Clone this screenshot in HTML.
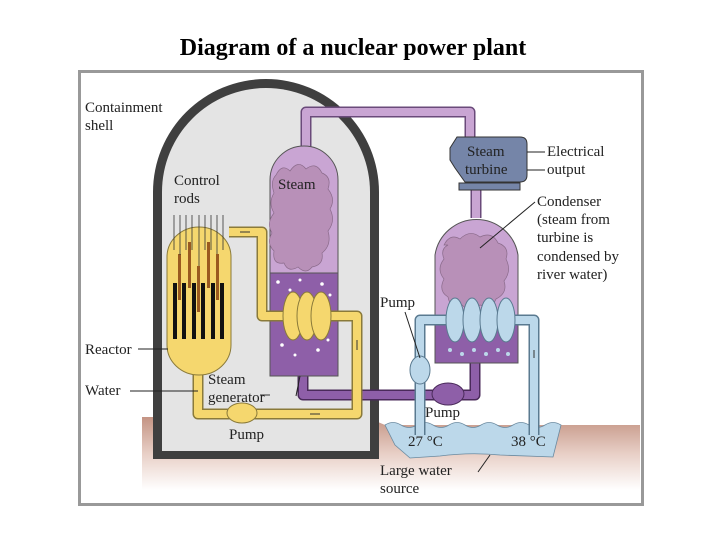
<!DOCTYPE html>
<html><head><meta charset="utf-8"><style>
html,body{margin:0;padding:0;background:#fff;width:720px;height:540px;overflow:hidden}
svg text{font-family:"Liberation Serif",serif;font-size:15px;fill:#222}
</style></head><body>
<svg width="720" height="540" viewBox="0 0 720 540" xmlns="http://www.w3.org/2000/svg">
<defs>
<linearGradient id="gr" x1="0" y1="0" x2="0" y2="1">
<stop offset="0" stop-color="#c49484"/><stop offset="0.5" stop-color="#e8cfc6"/><stop offset="1" stop-color="#fff"/>
</linearGradient>
</defs>
<text x="353" y="55" text-anchor="middle" style="font-size:24px;font-weight:bold;fill:#000">Diagram of a nuclear power plant</text>
<rect x="79.5" y="71.5" width="563" height="433" fill="#fff" stroke="#999" stroke-width="3"/>
<path d="M142 417 L153 417 L153 459 L378 459 L378 422 L385 425 L640 425 L640 490 L142 490 Z" fill="url(#gr)"/>
<path d="M385 425 q8 -5 16 0 q8 5 16 0 q8 -5 16 0 q8 5 16 0 q8 -5 16 0 q8 5 16 0 q8 -5 16 0 q8 5 16 0 q8 -5 16 0 q8 5 16 0 q8 -5 16 0 L553 457 L500 455 Q470 452 440 456 L410 458 L395 445 Z" fill="#bcd8ea" stroke="#6a8aa0" stroke-width="0.8"/>
<path d="M153 459 L153 192 A113 113 0 0 1 379 192 L379 459 Z" fill="#3f3f3f"/>
<path d="M162 451 L162 192 A104 104 0 0 1 370 192 L370 451 Z" fill="#e4e4e4"/>
<g fill="none" stroke-linejoin="round">
<path d="M306 150 L306 112 L470 112 L470 140" stroke="#6a4a7a" stroke-width="11"/>
<path d="M306 150 L306 112 L470 112 L470 140" stroke="#c9a5d3" stroke-width="8"/>
<path d="M476 180 L476 218" stroke="#6a4a7a" stroke-width="11"/>
<path d="M476 180 L476 218" stroke="#c9a5d3" stroke-width="8"/>
<path d="M475 360 L475 395 L303 395 L303 376" stroke="#4a2a5a" stroke-width="11"/>
<path d="M475 360 L475 395 L303 395 L303 376" stroke="#8e5fa8" stroke-width="8"/>
</g>
<path d="M270 376 L270 180 A34 34 0 0 1 338 180 L338 376 Z" fill="#c9a5d3" stroke="#555" stroke-width="1"/>
<rect x="270" y="273" width="68" height="103" fill="#8e5fa8" stroke="#555" stroke-width="1"/>
<path d="M276 175 q6 -12 14 -4 q8 -12 16 -2 q10 -8 16 4 q10 4 6 16 q8 10 2 20 q6 12 -2 22 q4 14 -6 22 q2 12 -10 14 q-6 8 -14 0 q-10 6 -14 -4 q-12 2 -10 -12 q-8 -8 -2 -18 q-6 -10 2 -20 q-6 -10 0 -20 q-4 -12 2 -18Z" fill="#b890b8" stroke="#8a6a8a" stroke-width="0.7"/>
<g fill="#fff"><circle cx="278" cy="282" r="1.8"/><circle cx="290" cy="290" r="1.5"/><circle cx="300" cy="280" r="1.5"/><circle cx="322" cy="284" r="1.8"/><circle cx="330" cy="295" r="1.5"/><circle cx="282" cy="345" r="1.8"/><circle cx="295" cy="355" r="1.5"/><circle cx="318" cy="350" r="1.8"/><circle cx="328" cy="340" r="1.5"/></g>
<path d="M435 363 L435 255 A42 42 0 0 1 518 255 L518 363 Z" fill="#c9a5d3" stroke="#555" stroke-width="1"/>
<rect x="435" y="323" width="83" height="40" fill="#8e5fa8" stroke="#555" stroke-width="1"/>
<path d="M444 245 q6 -12 16 -6 q10 -10 20 -2 q12 -6 18 6 q12 4 8 16 q6 12 -2 22 q4 12 -8 18 q-4 10 -16 6 q-10 8 -18 0 q-12 4 -14 -8 q-10 -6 -4 -18 q-8 -10 0 -20 q-4 -10 4 -14Z" fill="#b890b8" stroke="#8a6a8a" stroke-width="0.7"/>
<g fill="#bcd8ea"><circle cx="450" cy="350" r="2"/><circle cx="462" cy="354" r="2"/><circle cx="474" cy="350" r="2"/><circle cx="486" cy="354" r="2"/><circle cx="498" cy="350" r="2"/><circle cx="508" cy="354" r="2"/></g>
<g fill="none" stroke-linejoin="round">
<path d="M420 435 L420 320 L534 320 L534 435" stroke="#5a7a90" stroke-width="11"/>
<path d="M420 435 L420 320 L534 320 L534 435" stroke="#bcd8ea" stroke-width="8"/>
</g>
<g fill="#bcd8ea" stroke="#5a7a90" stroke-width="1">
<ellipse cx="455" cy="320" rx="9" ry="22"/><ellipse cx="472" cy="320" rx="9" ry="22"/><ellipse cx="489" cy="320" rx="9" ry="22"/><ellipse cx="506" cy="320" rx="9" ry="22"/>
<ellipse cx="420" cy="370" rx="10" ry="14"/>
</g>
<ellipse cx="448" cy="394" rx="16" ry="11" fill="#8e5fa8" stroke="#4a2a5a"/>
<g fill="none" stroke-linejoin="round">
<path d="M229 232 L262 232 L262 316 L357 316 L357 414 L198 414 L198 373" stroke="#8a7a3a" stroke-width="11"/>
<path d="M229 232 L262 232 L262 316 L357 316 L357 414 L198 414 L198 373" stroke="#f5d76e" stroke-width="8"/>
</g>
<g fill="#f5d76e" stroke="#8a7a3a" stroke-width="1">
<ellipse cx="293" cy="316" rx="10" ry="24"/><ellipse cx="307" cy="316" rx="10" ry="24"/><ellipse cx="321" cy="316" rx="10" ry="24"/>
<ellipse cx="242" cy="413" rx="15" ry="10"/>
</g>
<g stroke="#333" stroke-width="1"><line x1="240" y1="232" x2="250" y2="232"/><line x1="357" y1="340" x2="357" y2="350"/><line x1="320" y1="414" x2="310" y2="414"/><line x1="270" y1="395" x2="260" y2="395"/><line x1="534" y1="350" x2="534" y2="358"/></g>
<rect x="167" y="227" width="64" height="148" rx="32" ry="30" fill="#f5d76e" stroke="#8a7a3a" stroke-width="1"/>
<g fill="#111"><rect x="173" y="283" width="4" height="56"/><rect x="182" y="283" width="4" height="56"/><rect x="192" y="283" width="4" height="56"/><rect x="201" y="283" width="4" height="56"/><rect x="211" y="283" width="4" height="56"/><rect x="220" y="283" width="4" height="56"/></g>
<g fill="#9a5a20"><rect x="178" y="254" width="3" height="46"/><rect x="188" y="242" width="3" height="46"/><rect x="197" y="266" width="3" height="46"/><rect x="207" y="242" width="3" height="46"/><rect x="216" y="254" width="3" height="46"/></g>
<g stroke="#333" stroke-width="0.8"><line x1="174" y1="215" x2="174" y2="250"/><line x1="180" y1="215" x2="180" y2="255"/><line x1="186" y1="215" x2="186" y2="250"/><line x1="192" y1="215" x2="192" y2="250"/><line x1="199" y1="215" x2="199" y2="266"/><line x1="205" y1="215" x2="205" y2="250"/><line x1="211" y1="215" x2="211" y2="250"/><line x1="217" y1="215" x2="217" y2="254"/><line x1="223" y1="215" x2="223" y2="250"/></g>
<rect x="459" y="183" width="61" height="7" fill="#7585a8" stroke="#333" stroke-width="1"/>
<path d="M457 137 L520 137 Q527 137 527 144 L527 175 Q527 182 520 182 L465 182 L455 168 L450 160 L450 148 Z" fill="#7585a8" stroke="#333" stroke-width="1"/>
<text x="467" y="156">Steam</text><text x="465" y="174">turbine</text>
<g stroke="#222" stroke-width="1"><line x1="527" y1="152" x2="545" y2="152"/><line x1="527" y1="170" x2="545" y2="170"/>
<line x1="168" y1="349" x2="138" y2="349"/><line x1="198" y1="391" x2="130" y2="391"/>
<line x1="480" y1="248" x2="535" y2="202"/><line x1="420" y1="358" x2="405" y2="312"/>
<line x1="300" y1="376" x2="296" y2="396"/><line x1="490" y1="455" x2="478" y2="472"/></g>
<text x="85" y="112">Containment</text><text x="85" y="130">shell</text>
<text x="174" y="185">Control</text><text x="174" y="203">rods</text>
<text x="278" y="189">Steam</text>
<text x="547" y="156">Electrical</text><text x="547" y="174">output</text>
<text x="537" y="206">Condenser</text><text x="537" y="224">(steam from</text><text x="537" y="242">turbine is</text><text x="537" y="261">condensed by</text><text x="537" y="279">river water)</text>
<text x="380" y="307">Pump</text>
<text x="85" y="354">Reactor</text>
<text x="85" y="395">Water</text>
<text x="208" y="384">Steam</text><text x="208" y="402">generator</text>
<text x="229" y="439">Pump</text>
<text x="425" y="417">Pump</text>
<text x="408" y="446">27 °C</text><text x="511" y="446">38 °C</text>
<text x="380" y="475">Large water</text><text x="380" y="493">source</text>
</svg>
</body></html>
